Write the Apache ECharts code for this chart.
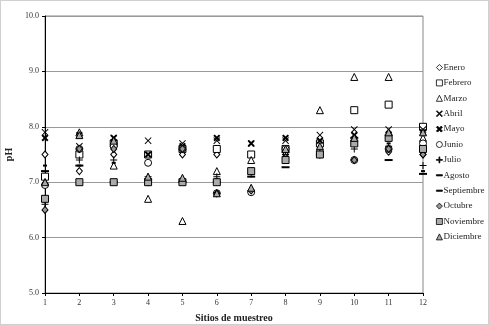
<!DOCTYPE html>
<html>
<head>
<meta charset="utf-8">
<script src="https://cdn.jsdelivr.net/npm/echarts@6/dist/echarts.min.js"></script>
<style>
  html, body { margin: 0; padding: 0; background: #fff; }
  #wrap { position: relative; width: 489px; height: 325px; }
  #chart { width: 489px; height: 325px; }
  #frame { position: absolute; left: 0; top: 0; width: 489px; height: 325px; box-sizing: border-box; border: 1px solid #d0d0d0; pointer-events: none; }
</style>
</head>
<body>
<div id="wrap"><div id="chart"></div><div id="frame"></div></div>
<script>
// sampling sites on x
var sites = [1, 2, 3, 4, 5, 6, 7, 8, 9, 10, 11, 12];
var months = ['Enero', 'Febrero', 'Marzo', 'Abril', 'Mayo', 'Junio', 'Julio', 'Agosto', 'Septiembre', 'Octubre', 'Noviembre', 'Diciembre'];

// pH per month, one value per site
var enero      = [7.5, 7.2, 7.5, 7.0, 7.5, 7.5, 6.85, 7.5, 7.5, 7.4, 7.55, 7.5];
var febrero    = [7.1, 7.5, 7.7, 7.5, 7.6, 7.6, 7.5, 7.6, 7.7, 8.3, 8.4, 8.0];
var marzo      = [7.0, 7.9, 7.3, 6.7, 6.3, 7.2, 7.4, 7.6, 8.3, 8.9, 8.9, 7.8];
var abril      = [7.9, 7.65, 7.8, 7.75, 7.7, 7.75, 7.7, 7.75, 7.85, 7.95, 7.95, 7.95];
var mayo       = [7.8, 7.85, 7.8, 7.5, 7.65, 7.8, 7.7, 7.8, 7.75, 7.85, 7.85, 7.9];
var junio      = [6.95, 7.6, 7.65, 7.35, 7.6, 6.8, 6.82, 7.6, 7.55, 7.4, 7.6, 7.7];
var julio      = [6.6, 7.4, 7.4, 7.1, 7.05, 7.1, 7.15, 7.5, 7.55, 7.6, 7.65, 7.3];
var agosto     = [7.3, 7.3, 7.35, 7.1, 7.05, 7.05, 7.2, 7.35, 7.5, 7.8, 7.7, 7.2];
var septiembre = [7.2, 7.3, 7.0, 7.05, 7.0, 7.0, 7.1, 7.27, 7.5, 7.8, 7.4, 7.15];
var octubre    = [6.5, 7.6, 7.6, 7.05, 7.6, 6.8, 6.85, 7.45, 7.5, 7.4, 7.6, 7.5];
var noviembre  = [6.7, 7.0, 7.0, 7.0, 7.0, 7.0, 7.2, 7.4, 7.5, 7.7, 7.8, 7.6];
var diciembre  = [7.0, 7.85, 7.75, 7.1, 7.08, 6.8, 6.9, 7.6, 7.65, 7.8, 7.9, 7.9];

var values = [enero, febrero, marzo, abril, mayo, junio, julio, agosto, septiembre, octubre, noviembre, diciembre];

var crossPath = 'path://M0,1 L1,0 L5,4 L9,0 L10,1 L6,5 L10,9 L9,10 L5,6 L1,10 L0,9 L4,5 Z';
var crossBold = 'path://M0,2 L2,0 L5,3 L8,0 L10,2 L7,5 L10,8 L8,10 L5,7 L2,10 L0,8 L3,5 Z';
var plusPath = 'path://M4.3,0 H5.7 V4.3 H10 V5.7 H5.7 V10 H4.3 V5.7 H0 V4.3 H4.3 Z';
var dashPath = 'path://M0,0 H10 V2 H0 Z';

var styles = [
  { symbol: 'diamond', size: [6, 7], fill: '#fff', border: '#000' },
  { symbol: 'rect', size: 7, fill: '#fff', border: '#000' },
  { symbol: 'triangle', size: 7, fill: '#fff', border: '#000' },
  { symbol: crossPath, size: 7, fill: '#000', border: null },
  { symbol: crossBold, size: 7, fill: '#000', border: null },
  { symbol: 'circle', size: 7, fill: '#fff', border: '#000' },
  { symbol: plusPath, size: 7, fill: '#000', border: null },
  { symbol: dashPath, size: [4, 2], fill: '#000', border: null },
  { symbol: dashPath, size: [8, 2], fill: '#000', border: null },
  { symbol: 'diamond', size: [6, 7], fill: '#999', border: '#000' },
  { symbol: 'rect', size: 7, fill: '#aaa', border: '#000' },
  { symbol: 'triangle', size: 7, fill: '#aaa', border: '#000' }
];

var serif = '"Liberation Serif", "DejaVu Serif", serif';

var series = months.map(function (m, i) {
  var st = styles[i];
  return {
    name: m,
    type: 'scatter',
    symbol: st.symbol,
    symbolSize: st.size,
    itemStyle: {
      color: st.fill,
      borderColor: st.border || st.fill,
      borderWidth: st.border ? 1 : 0,
      opacity: 1
    },
    data: sites.map(function (s, j) { return [s, values[i][j]]; })
  };
});

var chart = echarts.init(document.getElementById('chart'));

chart.setOption({
  animation: false,
  grid: {
    left: 45, right: 66, top: 16, bottom: 32,
    outerBoundsMode: 'none',
    containLabel: false,
    show: true, borderColor: '#888', borderWidth: 1
  },
  legend: {
    orient: 'vertical',
    left: 431,
    top: 58,
    itemWidth: 6,
    itemHeight: 6,
    itemGap: 6.4,
    itemStyle: { borderWidth: 0.8 },
    textStyle: { fontFamily: serif, fontSize: 9, color: '#222', padding: [0, 0, 0, -4] },
    data: months
  },
  xAxis: {
    type: 'value',
    min: 1, max: 12, interval: 1,
    name: 'Sitios de muestreo',
    nameLocation: 'middle',
    nameGap: 20,
    nameTextStyle: { fontFamily: serif, fontSize: 10, fontWeight: 'bold', color: '#222' },
    axisLine: { lineStyle: { color: '#000' } },
    axisTick: { show: true, length: 3, lineStyle: { color: '#000' } },
    axisLabel: { fontFamily: serif, fontSize: 8, color: '#333', margin: 6 },
    splitLine: { show: false }
  },
  yAxis: {
    type: 'value',
    min: 5, max: 10, interval: 1,
    name: 'pH',
    nameLocation: 'middle',
    nameGap: 24,
    nameTextStyle: { fontFamily: serif, fontSize: 10, fontWeight: 'bold', color: '#222' },
    axisLine: { show: true, lineStyle: { color: '#000' } },
    axisTick: { show: true, length: 3, lineStyle: { color: '#000' } },
    axisLabel: {
      fontFamily: serif, fontSize: 8, color: '#333', margin: 6,
      formatter: function (v) { return v.toFixed(1); }
    },
    splitLine: { show: true, lineStyle: { color: '#999', width: 1 } }
  },
  series: series
});
</script>
</body>
</html>
